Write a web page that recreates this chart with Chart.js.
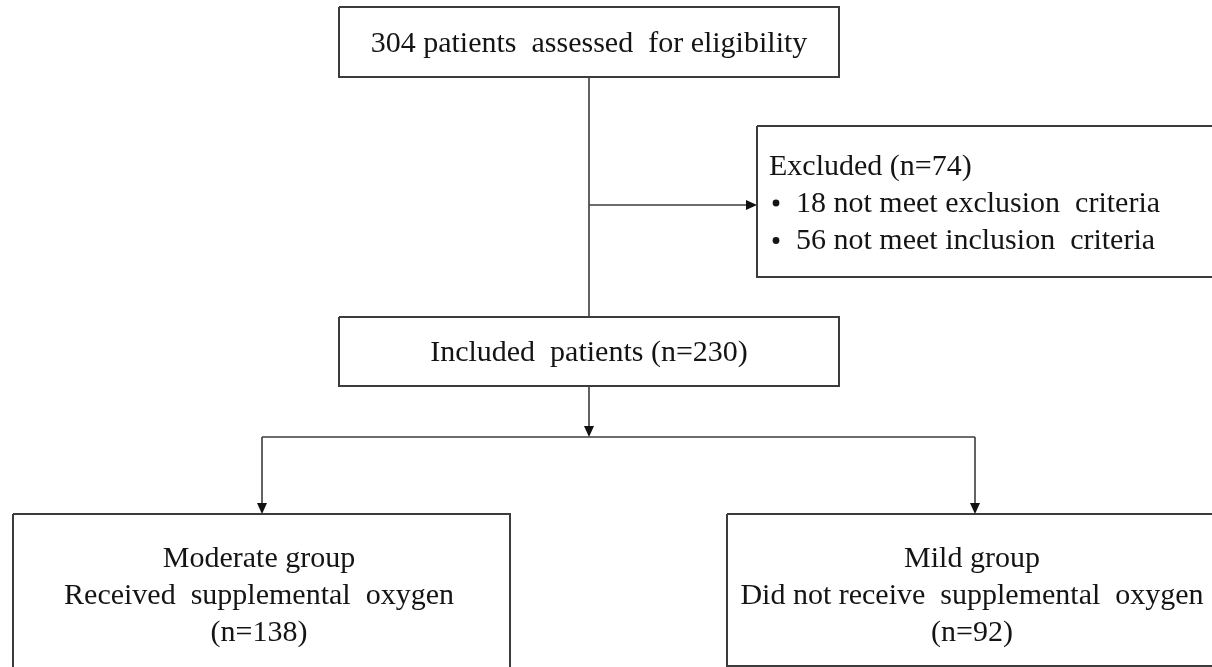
<!DOCTYPE html>
<html>
<head>
<meta charset="utf-8">
<script src="https://cdn.jsdelivr.net/npm/chart.js@4/dist/chart.umd.min.js"></script>
<style>
  html, body { margin: 0; padding: 0; background: #fff; }
  #wrap { width: 1212px; height: 667px; position: relative; }
</style>
</head>
<body>
<div id="wrap"><canvas id="flow"></canvas></div>
<script>
// counts
const assessedN = 304;
const excludedN = 74;
const excludedCounts = [18, 56];
const excludedReasons = ['not meet exclusion  criteria', 'not meet inclusion  criteria'];
const includedN = 230;
const groupNames = ['Moderate group', 'Mild group'];
const groupDesc = ['Received  supplemental  oxygen', 'Did not receive  supplemental  oxygen'];
const groupCounts = [138, 92];

// layout in chart units (x 0..1212, y 0..667 top-down)
const boxes = {
    assessed: [339, 7, 839, 77],
    excluded: [757, 126, 1216, 277],
    included: [339, 317, 839, 386],
    moderate: [13, 514, 510, 672],
    mild: [727, 514, 1216, 666]
};
const connectors = [
    [[589, 77], [589, 317]],
    [[589, 205], [749, 205]],
    [[589, 386], [589, 429]],
    [[262, 437], [975, 437]],
    [[262, 437], [262, 506]],
    [[975, 437], [975, 506]]
];
// arrow tips: [x, y, direction]
const arrowTips = [
    [757, 205, 'right'],
    [589, 437, 'down'],
    [262, 514, 'down'],
    [975, 514, 'down']
];

const LINE = '#3c3c3c';
const FONT = '30px "Liberation Serif", "Times New Roman", serif';

function rectPoints(b) {
    return [
        { x: b[0], y: b[1] }, { x: b[2], y: b[1] },
        { x: b[2], y: b[3] }, { x: b[0], y: b[3] }, { x: b[0], y: b[1] }
    ];
}

const datasets = [];
Object.keys(boxes).forEach(k => {
    datasets.push({
        label: k,
        data: rectPoints(boxes[k]),
        showLine: true, borderColor: LINE, borderWidth: 2,
        pointRadius: 0, fill: false, tension: 0
    });
});
connectors.forEach((c, i) => {
    datasets.push({
        label: 'link' + i,
        data: c.map(p => ({ x: p[0], y: p[1] })),
        showLine: true, borderColor: LINE, borderWidth: 1.6,
        pointRadius: 0, fill: false, tension: 0
    });
});

const flowText = {
    id: 'flowText',
    afterDatasetsDraw(chart) {
        const ctx = chart.ctx;
        const xs = chart.scales.x, ys = chart.scales.y;
        const px = v => xs.getPixelForValue(v);
        const py = v => ys.getPixelForValue(v);

        // arrow heads
        ctx.save();
        ctx.fillStyle = '#111';
        arrowTips.forEach(a => {
            const x = px(a[0]), y = py(a[1]);
            ctx.beginPath();
            if (a[2] === 'down') {
                ctx.moveTo(x, y); ctx.lineTo(x - 5, y - 11); ctx.lineTo(x + 5, y - 11);
            } else {
                ctx.moveTo(x, y); ctx.lineTo(x - 11, y - 5); ctx.lineTo(x - 11, y + 5);
            }
            ctx.closePath();
            ctx.fill();
        });

        ctx.font = FONT;
        ctx.fillStyle = '#141414';
        ctx.textBaseline = 'middle';
        ctx.textAlign = 'center';
        ctx.fillText(assessedN + ' patients  assessed  for eligibility', px(589), py(44));
        ctx.fillText('Included  patients (n=' + includedN + ')', px(589), py(353));

        const gx = [259, 972];
        groupNames.forEach((g, i) => {
            ctx.fillText(g, px(gx[i]), py(559));
            ctx.fillText(groupDesc[i], px(gx[i]), py(596));
            ctx.fillText('(n=' + groupCounts[i] + ')', px(gx[i]), py(633));
        });

        ctx.textAlign = 'left';
        ctx.fillText('Excluded (n=' + excludedN + ')', px(769), py(167));
        excludedCounts.forEach((n, i) => {
            const y = py(204 + i * 37.5);
            ctx.beginPath();
            ctx.arc(px(776), y - 1, 3.4, 0, Math.PI * 2);
            ctx.fill();
            ctx.fillText(n + ' ' + excludedReasons[i], px(796), y);
        });
        ctx.restore();
    }
};

new Chart(document.getElementById('flow'), {
    type: 'scatter',
    data: { datasets: datasets },
    options: {
        responsive: true,
        maintainAspectRatio: false,
        animation: false,
        layout: { padding: 0 },
        scales: {
            x: { type: 'linear', min: 0, max: 1212, display: false },
            y: { type: 'linear', min: 0, max: 667, reverse: true, display: false }
        },
        plugins: { legend: { display: false }, tooltip: { enabled: false } },
        events: []
    },
    plugins: [flowText]
});
</script>
</body>
</html>
